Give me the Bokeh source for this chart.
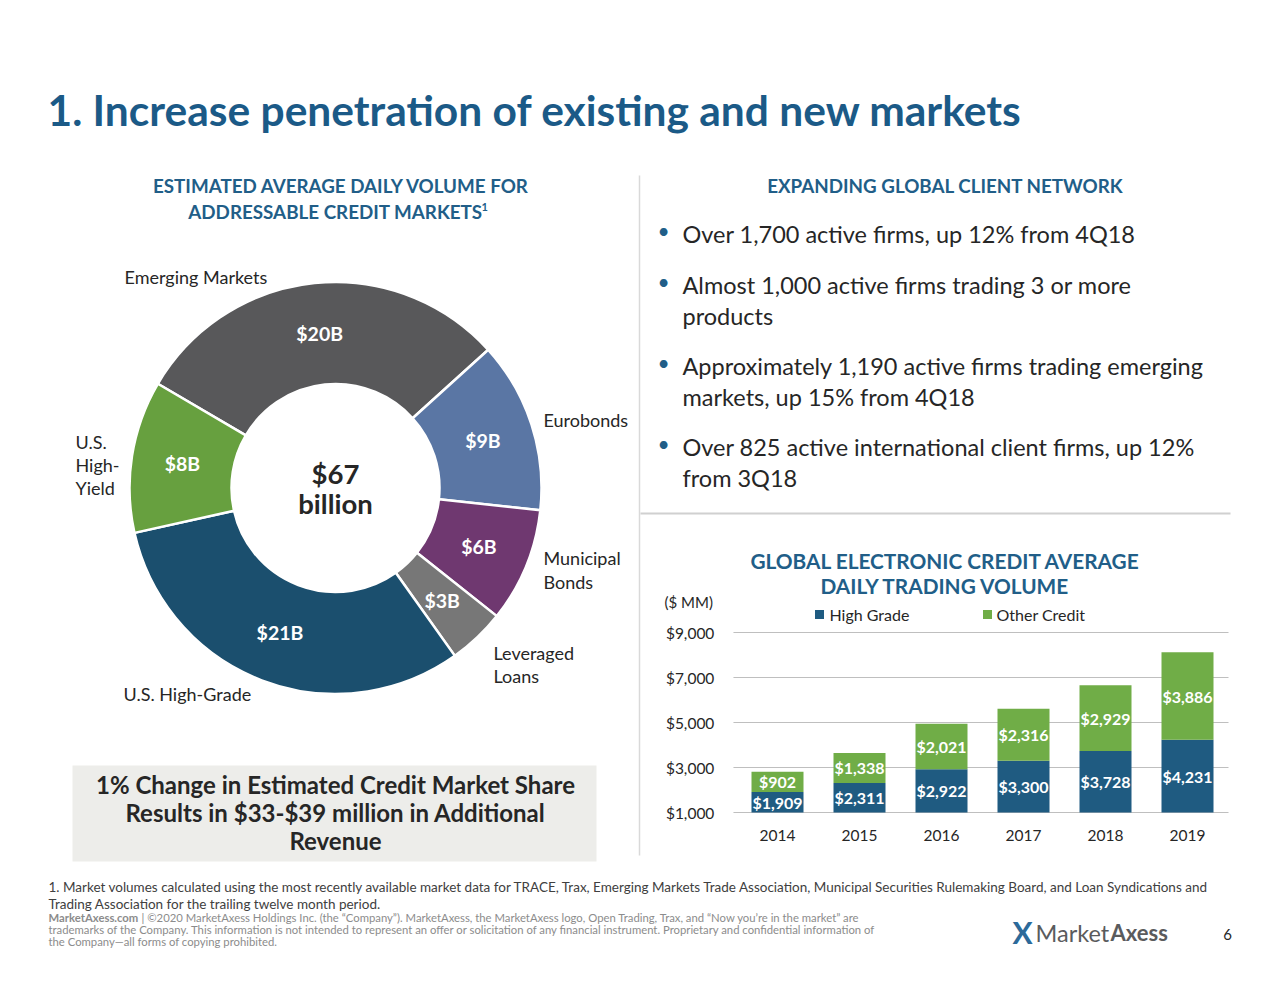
import math
from bokeh.plotting import figure
from bokeh.models import Range1d
from bokeh.core.properties import value
from bokeh.embed import file_html
from bokeh.resources import INLINE

# ---------------- data ----------------
DONUT_CATEGORIES = ["Emerging Markets", "Eurobonds", "Municipal Bonds",
                    "Leveraged Loans", "U.S. High-Grade", "U.S. High-Yield"]
DONUT_VALUES = [20, 9, 6, 3, 21, 8]
DONUT_VALUE_LABELS = ["$20B", "$9B", "$6B", "$3B", "$21B", "$8B"]
DONUT_TOTAL_LABEL = ["$67", "billion"]

YEARS = ["2014", "2015", "2016", "2017", "2018", "2019"]
HIGH_GRADE = [1909, 2311, 2922, 3300, 3728, 4231]
OTHER_CREDIT = [902, 1338, 2021, 2316, 2929, 3886]
Y_TICKS = [1000, 3000, 5000, 7000, 9000]
Y_TICK_LABELS = ["$1,000", "$3,000", "$5,000", "$7,000", "$9,000"]
SERIES = ["High Grade", "Other Credit"]

BULLETS = [
    ["Over 1,700 active firms, up 12% from 4Q18"],
    ["Almost 1,000 active firms trading 3 or more", "products"],
    ["Approximately 1,190 active firms trading emerging", "markets, up 15% from 4Q18"],
    ["Over 825 active international client firms, up 12%", "from 3Q18"],
]

# ---------------- style ----------------
FONT = value("Lato")
TITLE_BLUE = "#1B5A87"
HEAD_BLUE = "#215E88"
DARK = "#262626"
DONUT_COLORS = ["#58585A", "#5A76A4", "#6F3870", "#777777", "#1B4F6E", "#67A03F"]
BAR_NAVY = "#1F5B81"
BAR_GREEN = "#70AD47"

W, H = 1264, 973
p = figure(width=W, height=H, x_range=Range1d(0, W), y_range=Range1d(-H, 0),
           output_backend="svg", toolbar_location=None, min_border=0,
           x_axis_location=None, y_axis_location=None)
p.grid.visible = False
p.outline_line_color = None
p.background_fill_color = "white"


def txt(x, y, s, size, color=DARK, bold=False, align="left", baseline="middle", **kw):
    p.text(x=[x], y=[-y], text=[s], text_font=FONT, text_font_size=f"{size}px",
           text_font_style="bold" if bold else "normal", text_color=color,
           text_align=align, text_baseline=baseline, **kw)


# ---------------- title ----------------
txt(47, 109, "1. Increase penetration of existing and new markets", 42.5, TITLE_BLUE, True)

# dividers
p.segment(x0=[639], y0=[-175], x1=[639], y1=[-855], line_color="#D9D9D9", line_width=1.5)
p.segment(x0=[640], y0=[-513], x1=[1230], y1=[-513], line_color="#D0D0D0", line_width=2)

# ---------------- left: donut ----------------
txt(341, 185, "ESTIMATED AVERAGE DAILY VOLUME FOR", 18.8, HEAD_BLUE, True, "center")
txt(335, 211, "ADDRESSABLE CREDIT MARKETS", 18.8, HEAD_BLUE, True, "center")
txt(481, 206, "1", 11, HEAD_BLUE, True, "left")

CX, CY = 335, 487.5
R_IN, R_OUT = 104, 206
START_DEG = 149.6
total = sum(DONUT_VALUES)
starts, ends, mids = [], [], []
cum = 0
for v in DONUT_VALUES:
    a0 = START_DEG - cum / total * 360
    cum += v
    a1 = START_DEG - cum / total * 360
    starts.append(math.radians(a0))
    ends.append(math.radians(a1))
    mids.append(math.radians((a0 + a1) / 2))

p.annular_wedge(x=[CX] * len(DONUT_VALUES), y=[-CY] * len(DONUT_VALUES),
                inner_radius=R_IN, outer_radius=R_OUT,
                start_angle=starts, end_angle=ends, direction="clock",
                fill_color=DONUT_COLORS, line_color="white", line_width=2.5)

r_lab = (R_IN + R_OUT) / 2
p.text(x=[CX + r_lab * math.cos(m) for m in mids],
       y=[-CY + r_lab * math.sin(m) for m in mids],
       text=DONUT_VALUE_LABELS, text_font=FONT, text_font_size="19.5px",
       text_font_style="bold", text_color="white", text_align="center",
       text_baseline="middle")

txt(CX, 473, DONUT_TOTAL_LABEL[0], 27.5, DARK, True, "center")
txt(CX, 503, DONUT_TOTAL_LABEL[1], 27.5, DARK, True, "center")

# outside category labels (line breaks as in the slide)
LS = 18
txt(124, 276, DONUT_CATEGORIES[0], LS)
txt(543, 419, DONUT_CATEGORIES[1], LS)
txt(543, 557, "Municipal", LS)
txt(543, 581, "Bonds", LS)
txt(493, 652, "Leveraged", LS)
txt(493, 675, "Loans", LS)
txt(123, 693, DONUT_CATEGORIES[4], LS)
txt(75, 441, "U.S.", LS)
txt(75, 464, "High-", LS)
txt(75, 487, "Yield", LS)

# call-out box
p.quad(left=[72], right=[596], top=[-765], bottom=[-861], fill_color="#EDEDEA", line_color=None)
txt(335, 784, "1% Change in Estimated Credit Market Share", 24, DARK, True, "center")
txt(335, 812, "Results in $33-$39 million in Additional", 24, DARK, True, "center")
txt(335, 840, "Revenue", 24, DARK, True, "center")

# ---------------- right top: bullets ----------------
txt(945, 185, "EXPANDING GLOBAL CLIENT NETWORK", 18.8, HEAD_BLUE, True, "center")
bullet_y = [233, 284, 365, 446]
for by, lines in zip(bullet_y, BULLETS):
    txt(663, by - 3, "\u2022", 21, HEAD_BLUE, False, "center")
    for k, line in enumerate(lines):
        txt(682, by + 31 * k, line, 23.5)

# ---------------- right bottom: stacked bars ----------------
txt(945, 560, "GLOBAL ELECTRONIC CREDIT AVERAGE", 20.8, HEAD_BLUE, True, "center")
txt(945, 585, "DAILY TRADING VOLUME", 20.8, HEAD_BLUE, True, "center")
txt(664, 601, "($ MM)", 15)

# bar scales: value Y_TICKS[0] sits at page y 812, Y_TICKS[-1] at page y 632
AX_BOT_PX, AX_TOP_PX = 812, 632
ppu = (AX_BOT_PX - AX_TOP_PX) / (Y_TICKS[-1] - Y_TICKS[0])
vb_start = Y_TICKS[0] - (H - AX_BOT_PX) / ppu
vb_end = Y_TICKS[0] + AX_BOT_PX / ppu
p.extra_y_ranges = {"bars": Range1d(vb_start, vb_end)}
X0_PX, DX_PX = 777, 82
p.extra_x_ranges = {"idx": Range1d(-X0_PX / DX_PX, (W - X0_PX) / DX_PX)}

idx = list(range(len(YEARS)))
base = [Y_TICKS[0]] * len(YEARS)
tops_hg = HIGH_GRADE
tops_all = [h + o for h, o in zip(HIGH_GRADE, OTHER_CREDIT)]

# gridlines and tick labels
p.segment(x0=[-0.537] * len(Y_TICKS), x1=[5.5] * len(Y_TICKS), y0=Y_TICKS, y1=Y_TICKS,
          line_color="#BFBFBF", line_width=1, x_range_name="idx", y_range_name="bars")
p.text(x=[-0.77] * len(Y_TICKS), y=Y_TICKS, text=Y_TICK_LABELS, text_font=FONT,
       text_font_size="15.5px", text_color=DARK, text_align="right", text_baseline="middle",
       x_range_name="idx", y_range_name="bars")

BW = 52 / DX_PX
p.vbar(x=idx, bottom=base, top=tops_hg, width=BW, fill_color=BAR_NAVY, line_color=None,
       x_range_name="idx", y_range_name="bars")
p.vbar(x=idx, bottom=tops_hg, top=tops_all, width=BW, fill_color=BAR_GREEN, line_color=None,
       x_range_name="idx", y_range_name="bars")

p.text(x=idx, y=[(b + t) / 2 for b, t in zip(base, tops_hg)],
       text=[f"${v:,}" for v in HIGH_GRADE], text_font=FONT, text_font_size="16px",
       text_font_style="bold", text_color="white", text_align="center", text_baseline="middle",
       x_range_name="idx", y_range_name="bars")
p.text(x=idx, y=[(b + t) / 2 for b, t in zip(tops_hg, tops_all)],
       text=[f"${v:,}" for v in OTHER_CREDIT], text_font=FONT, text_font_size="16px",
       text_font_style="bold", text_color="white", text_align="center", text_baseline="middle",
       x_range_name="idx", y_range_name="bars")
p.text(x=idx, y=[Y_TICKS[0]] * len(YEARS), y_offset=23, text=YEARS, text_font=FONT,
       text_font_size="15.5px", text_color=DARK, text_align="center", text_baseline="middle",
       x_range_name="idx", y_range_name="bars")

# legend (manual, matching slide)
p.rect(x=[819, 987], y=[-614, -614], width=9, height=9, fill_color=[BAR_NAVY, BAR_GREEN],
       line_color=None)
txt(829, 614, SERIES[0], 16)
txt(996, 614, SERIES[1], 16)

# ---------------- footer ----------------
FOOT = "#404040"
txt(48, 886, "1. Market volumes calculated using the most recently available market data for TRACE, Trax, "
             "Emerging Markets Trade Association, Municipal Securities Rulemaking Board, and Loan Syndications and",
    13.5, FOOT)
txt(48, 903, "Trading Association for the trailing twelve month period.", 13.5, FOOT)
GREY = "#8C8C8C"
txt(48, 917, "MarketAxess.com", 11.3, GREY, True)
txt(141, 917, "| \u00a92020 MarketAxess Holdings Inc. (the \u201cCompany\u201d). MarketAxess, the MarketAxess logo, "
              "Open Trading, Trax, and \u201cNow you\u2019re in the market\u201d are", 11.3, GREY)
txt(48, 929, "trademarks of the Company. This information is not intended to represent an offer or solicitation "
             "of any financial instrument. Proprietary and confidential information of", 11.3, GREY)
txt(48, 941, "the Company\u2014all forms of copying prohibited.", 11.3, GREY)

# logo + page number
txt(1022, 931, "X", 30, "#2C6A9A", True, "center")
txt(1035, 932, "Market", 23.5, "#5A5B5D")
txt(1110, 932, "Axess", 22, "#5A5B5D", True)
txt(1227, 934, "6", 15, DARK, False, "center")

open("out.html", "w").write(file_html(p, INLINE))
